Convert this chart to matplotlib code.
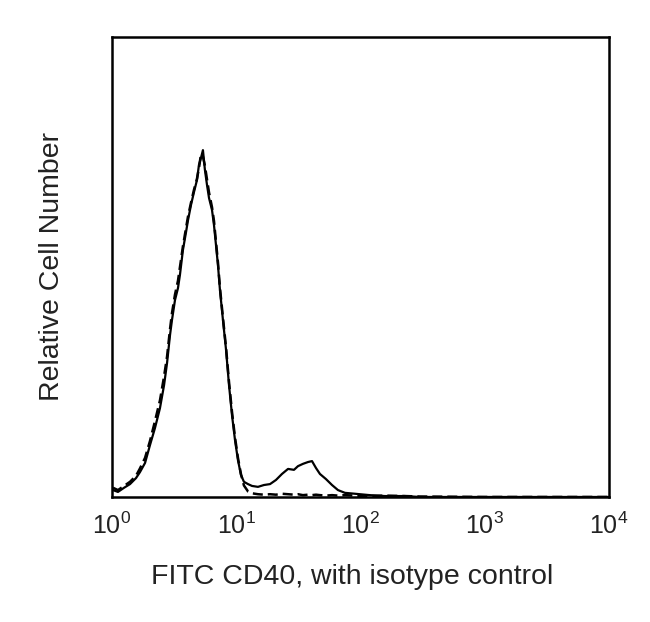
import numpy as np
import matplotlib
matplotlib.use("Agg")
import matplotlib.pyplot as plt

# log10 fluorescence channel and relative counts
log_fl = [0.008, 0.048, 0.097, 0.145, 0.193, 0.225, 0.266, 0.306, 0.346, 0.386,
          0.419, 0.443, 0.467, 0.483, 0.507, 0.531, 0.547, 0.571, 0.596, 0.612,
          0.636, 0.660, 0.684, 0.700, 0.716, 0.732, 0.748, 0.765, 0.781, 0.805,
          0.821, 0.837, 0.853, 0.869, 0.893, 0.918, 0.942, 0.966, 0.990, 1.014,
          1.038, 1.062, 1.095, 1.127, 1.175, 1.223, 1.272, 1.320, 1.368, 1.417,
          1.465, 1.497, 1.537, 1.578, 1.610, 1.642, 1.674, 1.722, 1.771, 1.819,
          1.875, 1.956, 2.076, 2.197, 2.358, 2.479, 3.000, 4.000]

cd40 = [0.015, 0.011, 0.020, 0.028, 0.041, 0.054, 0.074, 0.113, 0.150, 0.193,
        0.243, 0.291, 0.352, 0.385, 0.428, 0.454, 0.483, 0.537, 0.576, 0.602,
        0.635, 0.663, 0.689, 0.722, 0.737, 0.754, 0.711, 0.678, 0.650, 0.624,
        0.591, 0.548, 0.504, 0.450, 0.385, 0.320, 0.243, 0.178, 0.124, 0.080,
        0.048, 0.033, 0.028, 0.024, 0.022, 0.026, 0.028, 0.037, 0.050, 0.061,
        0.059, 0.067, 0.072, 0.076, 0.078, 0.063, 0.050, 0.039, 0.026, 0.015,
        0.009, 0.007, 0.004, 0.002, 0.002, 0.000, 0.000, 0.000]

isotype = [0.020, 0.015, 0.024, 0.033, 0.046, 0.062, 0.085, 0.122, 0.165, 0.210,
           0.262, 0.305, 0.365, 0.400, 0.440, 0.470, 0.500, 0.545, 0.585, 0.610,
           0.640, 0.668, 0.692, 0.715, 0.745, 0.740, 0.720, 0.690, 0.662, 0.630,
           0.600, 0.555, 0.510, 0.455, 0.390, 0.325, 0.250, 0.185, 0.130, 0.085,
           0.050, 0.025, 0.012, 0.008, 0.006, 0.005, 0.006, 0.005, 0.007, 0.006,
           0.005, 0.006, 0.004, 0.005, 0.004, 0.005, 0.004, 0.003, 0.004, 0.003,
           0.004, 0.003, 0.002, 0.003, 0.002, 0.001, 0.000, 0.000]

tick_labels = ["$10^0$", "$10^1$", "$10^2$", "$10^3$", "$10^4$"]

plt.rcParams['font.family'] = ['Liberation Sans', 'DejaVu Sans']
plt.rcParams['mathtext.fontset'] = 'custom'
plt.rcParams['mathtext.rm'] = 'Liberation Sans'

fig = plt.figure(figsize=(6.5, 6.22), dpi=100)
ax = fig.add_axes([0.1723, 0.2010, 0.7645, 0.7395])

x = 10 ** np.array(log_fl)
ax.plot(x, cd40, color="black", lw=1.6)
ax.plot(x, isotype, color="black", lw=1.8, ls=(0, (4, 2)))

ax.set_xscale("log")
ax.set_xlim(1, 1e4)
ax.set_ylim(0, 1)
ax.set_xticks([1, 10, 100, 1000, 10000])
ax.set_xticklabels(tick_labels)
ax.minorticks_off()
ax.set_yticks([])
ax.tick_params(axis="x", length=0, pad=11, labelsize=18, colors="#222222")
for s in ax.spines.values():
    s.set_linewidth(1.8)

ax.set_xlabel("FITC CD40, with isotype control", fontsize=20.5, color="#222222", labelpad=18)
ax.xaxis.label.set_x(0.484)
ax.set_ylabel("Relative Cell Number", fontsize=20.5, color="#222222", labelpad=34)

fig.savefig("out.png", dpi=100)
